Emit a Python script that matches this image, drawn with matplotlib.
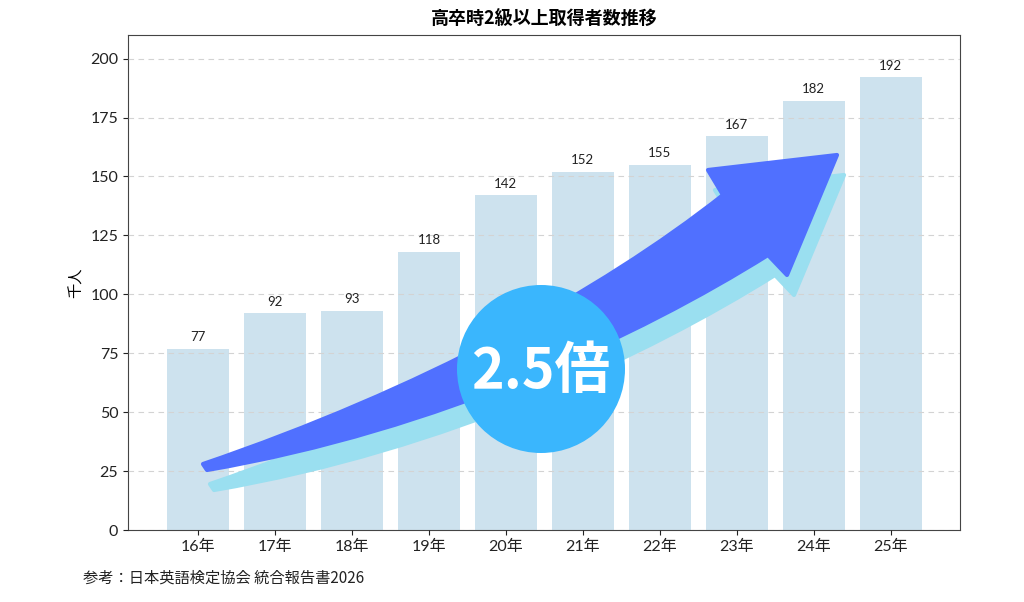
import numpy as np
import matplotlib
matplotlib.use("Agg")
import matplotlib.pyplot as plt
from matplotlib.path import Path
from matplotlib.patches import PathPatch, Circle
from matplotlib.transforms import Affine2D

plt.rcParams['font.family'] = ['Lato', 'Noto Sans CJK JP', 'DejaVu Sans']
CJK = ['Noto Sans CJK JP', 'DejaVu Sans']

# ── データ ───────────────────────────────────────
years = ['16年', '17年', '18年', '19年', '20年', '21年', '22年', '23年', '24年', '25年']
counts = [77, 92, 93, 118, 142, 152, 155, 167, 182, 192]
yticks = [0, 25, 50, 75, 100, 125, 150, 175, 200]

title = '高卒時2級以上取得者数推移'
ylabel = '千人'
note = '参考：日本英語検定協会 統合報告書2026'
badge = '2.5倍'

# ── 図 ───────────────────────────────────────────
fig = plt.figure(figsize=(10.24, 6.02), dpi=100)
ax = fig.add_axes([128 / 1024, 1 - 530 / 602, (960 - 128) / 1024, (530 - 35) / 602])

x = np.arange(len(years))
ax.bar(x, counts, width=0.8, color='#cde2ee', zorder=1)
for xi, v in zip(x, counts):
    ax.annotate(f'{v}', (xi, v), xytext=(0, 4), textcoords='offset points',
                ha='center', va='bottom', fontsize=9.5, color='#222222')

ax.set_xlim(-0.91, 9.9)
ax.set_ylim(0, 210)
ax.set_yticks(yticks)
ax.set_xticks(x)
ax.set_xticklabels(years)
ax.tick_params(labelsize=11.5, colors='#222222')
ax.yaxis.grid(True, linestyle=(0, (5, 4)), color='#d3d3d3', linewidth=0.8, zorder=2)
ax.set_axisbelow(False)
for s in ax.spines.values():
    s.set_color('#444444')
ax.set_ylabel(ylabel, fontsize=11, family=CJK)
ax.set_title(title, fontsize=13, fontweight='bold', pad=8, family=CJK)

# ── 装飾の矢印（ピクセル座標、左上原点） ─────────
px = Affine2D().scale(1 / 1024, -1 / 602).translate(0, 1) + fig.transFigure


def arrow_path(dx=0, dy=0):
    pts = [
        (203, 464),
        (420, 390), (600, 292), (723, 195),
        (708, 170), (837, 155), (787, 275), (768, 255),
        (640, 335), (440, 430), (207, 470),
        (203, 464),
    ]
    codes = [Path.MOVETO,
             Path.CURVE4, Path.CURVE4, Path.CURVE4,
             Path.LINETO, Path.LINETO, Path.LINETO, Path.LINETO,
             Path.CURVE4, Path.CURVE4, Path.CURVE4,
             Path.CLOSEPOLY]
    return Path([(a + dx, b + dy) for a, b in pts], codes)


for (dx, dy), col in [((7, 20), '#9adff0'), ((0, 0), '#5070ff')]:
    ax.add_patch(PathPatch(arrow_path(dx, dy), transform=px, facecolor=col,
                           edgecolor=col, linewidth=3, joinstyle='round',
                           clip_on=False, zorder=5))

ax.add_patch(Circle((541, 369), 84, transform=px, facecolor='#3ab6fd',
                    edgecolor='none', clip_on=False, zorder=6))
fig.text(541 / 1024, 1 - 372 / 602, badge, ha='center', va='center',
         fontsize=40, fontweight='bold', color='white', zorder=7, family=CJK)

fig.text(83 / 1024, 1 - 578 / 602, note, ha='left', va='center', fontsize=11,
         color='#222222', family=CJK)

fig.savefig('out.png', dpi=100)
